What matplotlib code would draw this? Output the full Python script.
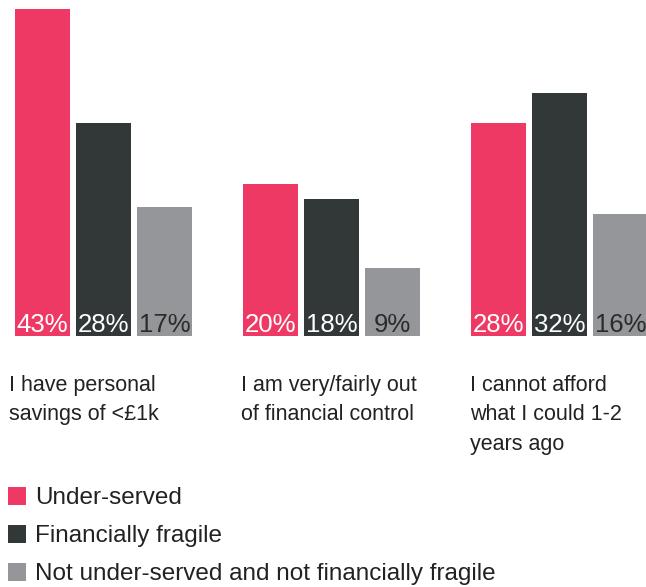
import numpy as np
import matplotlib.pyplot as plt

plt.rcParams['font.family'] = ['Liberation Sans', 'DejaVu Sans']

categories = ['I have personal\nsavings of <£1k',
              'I am very/fairly out\nof financial control',
              'I cannot afford\nwhat I could 1-2\nyears ago']
series = ['Under-served', 'Financially fragile',
          'Not under-served and not financially fragile']
under_served = [43, 20, 28]
fragile = [28, 18, 32]
not_either = [17, 9, 16]

colors = ['#EF3965', '#323738', '#959699']
label_colors = ['white', 'white', '#2b2b2b']

W, H = 646, 587
fig = plt.figure(figsize=(W / 100, H / 100), dpi=100)
base = 336
ax = fig.add_axes([0, (H - base) / H, 1, base / H])

x = np.arange(len(categories))
width = 55 / 228
step = 61 / 228
values = [under_served, fragile, not_either]
for i, (vals, c) in enumerate(zip(values, colors)):
    pos = x + (i - 1) * step
    bars = ax.bar(pos, vals, width, color=c, label=series[i])
    for p, v in zip(pos, vals):
        ax.text(p, 0.55, f'{v}%', ha='center', va='baseline', fontsize=18.5,
                color=label_colors[i])

ax.set_xlim(-103.5 / 228, (W - 103.5) / 228)
ax.set_ylim(0, base / 7.6)
ax.axis('off')

# category labels under each group
for lx, txt in zip([9, 241, 470], categories):
    fig.text(lx / W, 1 - 375 / H, txt, ha='left', va='top', fontsize=15.5,
             color='#222222', linespacing=1.52)

fig.legend(loc='upper left', bbox_to_anchor=(8 / W, 1 - 487 / H),
           frameon=False, fontsize=17.5, handlelength=0.75, handleheight=0.75,
           handletextpad=0.35, labelspacing=0.64, borderpad=0,
           borderaxespad=0, labelcolor='#222222')

fig.savefig('out.png', dpi=100)
